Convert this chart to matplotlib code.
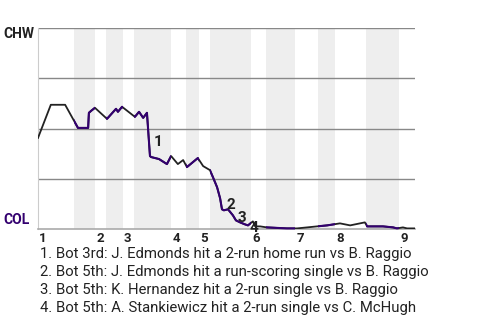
import matplotlib
matplotlib.use("Agg")
import matplotlib.pyplot as plt
from matplotlib.patches import Rectangle
from matplotlib.transforms import blended_transform_factory

plt.rcParams['font.family'] = ['Roboto', 'DejaVu Sans']

# game progress (0-100) and CHW win probability (%)
progress = [0, 3.4, 7.2, 10.6, 13.3, 13.5, 14.1, 15.1, 18.3, 20.7, 21.2, 22.3,
            25.7, 26.8, 27.9, 28.9, 29.7, 30.0, 32.1, 34.2, 35.3, 37.1, 38.5,
            39.5, 42.4, 43.8, 45.6, 46.4, 47.5, 48.3, 48.8, 49.3, 50.4, 51.7,
            52.5, 53.6, 54.9, 55.7, 57.0, 57.6, 58.9, 60.7, 66.0, 68.7, 71.4,
            74.0, 76.7, 80.1, 82.8, 85.4, 86.7, 87.3, 91.5, 94.2, 95.2, 96.8,
            97.9, 100]
chw_wp = [45.3, 61.8, 61.8, 50.3, 50.3, 57.8, 58.8, 60.3, 54.8, 59.8, 58.3, 60.8,
          55.8, 58.3, 55.3, 57.8, 36.3, 35.8, 34.8, 32.3, 36.3, 32.3, 34.3,
          30.8, 35.3, 31.3, 29.3, 25.8, 20.8, 15.3, 9.8, 9.3, 9.8, 6.8,
          4.3, 3.3, 2.3, 1.8, 3.8, 1.3, 1.3, 0.8, 0.3, 0.3, 0.8,
          1.3, 1.8, 2.8, 1.8, 2.8, 3.3, 1.3, 1.3, 0.8, 0.3, 0.8,
          0.3, 0.3]

# start of each inning (top half) and of each bottom half
inning_start = [0, 15.1, 22.5, 35.3, 42.7, 56.5, 68.2, 78.8, 95.8]
bottom_start = [9.5, 18.0, 25.5, 39.3, 45.6, 60.5, 74.3, 87.0]
bottom_end = [15.1, 22.5, 35.3, 42.7, 56.5, 68.2, 78.8, 95.8]
inning_labels = ['1', '2', '3', '4', '5', '6', '7', '8', '9']

# key events: progress, win prob, label offset (points)
event_x = [29.7, 48.8, 52.5, 55.7]
event_y = [36.3, 9.8, 4.3, 1.8]
event_off = [(3, 10), (3, 3), (1, 2), (1, -2)]
event_text = [
    "1. Bot 3rd: J. Edmonds hit a 2-run home run vs B. Raggio",
    "2. Bot 5th: J. Edmonds hit a run-scoring single vs B. Raggio",
    "3. Bot 5th: K. Hernandez hit a 2-run single vs B. Raggio",
    "4. Bot 5th: A. Stankiewicz hit a 2-run single vs C. McHugh",
]

purple = '#33006F'
dark = '#222222'

fig = plt.figure(figsize=(4.8, 3.2), dpi=100)
ax = fig.add_axes([38 / 480, 1 - 229 / 320, 377 / 480, 201 / 320])
ax.set_xlim(0, 100)
ax.set_ylim(0, 100)

for s, e in zip(bottom_start, bottom_end):
    ax.axvspan(s, e, color='#eeeeee', lw=0, zorder=0)

for g in [25, 50, 75, 100]:
    ax.axhline(g, color='#888888', lw=1, zorder=1)

ax.plot(progress, chw_wp, color=dark, lw=1.3, zorder=3)
for s, e in zip(bottom_start, bottom_end):
    clip = Rectangle((s, -10), e - s, 120, transform=ax.transData)
    ln, = ax.plot(progress, chw_wp, color=purple, lw=1.5, zorder=4)
    ln.set_clip_path(clip)

for i in range(len(event_x)):
    ax.annotate(str(i + 1), (event_x[i], event_y[i]), xytext=event_off[i],
                textcoords='offset points', fontsize=11, fontweight='bold',
                color=dark, ha='left', va='center', zorder=5)

for sp in ['top', 'right']:
    ax.spines[sp].set_visible(False)
ax.spines['left'].set_color('#cccccc')
ax.spines['bottom'].set_color('#aaaaaa')
ax.spines['bottom'].set_linewidth(1.2)
ax.set_xticks([])
ax.set_yticks([])

trans = blended_transform_factory(ax.transData, ax.transAxes)
for x, lab in zip(inning_start, inning_labels):
    ax.text(x + 0.3, -0.045, lab, transform=trans, ha='left', va='center',
            fontsize=9.5, fontweight='bold', color=dark)

fig.text(3 / 480, 1 - 34 / 320, 'CHW', ha='left', va='center', fontsize=10,
         fontweight='bold', color=dark)
fig.text(3 / 480, 1 - 220 / 320, 'COL', ha='left', va='center', fontsize=10,
         fontweight='bold', color=purple)

for i, t in enumerate(event_text):
    fig.text(40 / 480, 1 - (254 + 18 * i) / 320, t, ha='left', va='center',
             fontsize=10.75, color=dark)

fig.savefig('out.png', dpi=100)
